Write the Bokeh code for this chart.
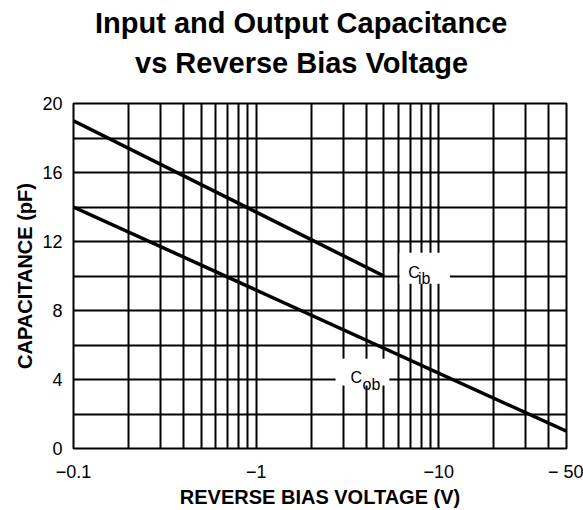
from bokeh.plotting import figure
from bokeh.models import FixedTicker, Label, Range1d, Title
from bokeh.embed import file_html
from bokeh.resources import INLINE

# ---- data ----
title_lines = ["Input and Output Capacitance", "vs Reverse Bias Voltage"]
x_label = "REVERSE BIAS VOLTAGE (V)"
y_label = "CAPACITANCE (pF)"

x_ticks = [0.1, 1, 10, 50]
x_tick_labels = ["\u22120.1", "\u22121", "\u221210", "\u2212 50"]
x_minor = [0.2, 0.3, 0.4, 0.5, 0.6, 0.7, 0.8, 0.9,
           2, 3, 4, 5, 6, 7, 8, 9, 20, 30, 40]
y_ticks = [0, 4, 8, 12, 16, 20]
y_minor = [2, 6, 10, 14, 18]

volts_ib = [0.1, 5.0]
cap_ib = [19.0, 10.0]
volts_ob = [0.1, 50.0]
cap_ob = [14.0, 1.0]

series_names = [("C", "ib"), ("C", "ob")]

FONT = "Liberation Sans"

p = figure(width=583, height=510, x_axis_type="log",
           x_range=Range1d(0.1, 50), y_range=Range1d(0, 20),
           output_backend="svg", toolbar_location=None, title=None,
           min_border_left=73, min_border_right=17,
           min_border_top=103, min_border_bottom=62)

p.background_fill_color = "white"
p.border_fill_color = "white"
p.outline_line_color = "black"
p.outline_line_width = 2

xt = FixedTicker(ticks=x_ticks, minor_ticks=x_minor)
yt = FixedTicker(ticks=y_ticks, minor_ticks=y_minor)
p.xaxis.ticker = xt
p.yaxis.ticker = yt
p.xgrid.ticker = xt
p.ygrid.ticker = yt

for g in (p.xgrid, p.ygrid):
    g.grid_line_color = "black"
    g.grid_line_width = 2
    g.minor_grid_line_color = "black"
    g.minor_grid_line_width = 2

for ax in (p.xaxis, p.yaxis):
    ax.axis_line_color = None
    ax.major_tick_in = 0
    ax.major_tick_out = 0
    ax.minor_tick_in = 0
    ax.minor_tick_out = 0
    ax.major_label_text_font = FONT
    ax.major_label_text_font_size = "18px"
    ax.major_label_text_color = "black"
    ax.axis_label_text_font = FONT
    ax.axis_label_text_font_size = "20px"
    ax.axis_label_text_font_style = "bold"
    ax.axis_label_text_color = "black"

p.xaxis.major_label_overrides = dict(zip(x_ticks, x_tick_labels))
p.xaxis.major_label_standoff = 13
p.xaxis.axis_label = x_label
p.xaxis.axis_label_standoff = 1

p.yaxis.major_label_standoff = 11
p.yaxis.axis_label = y_label
p.yaxis.axis_label_standoff = 3

# white boxes behind the curve names
p.quad(left=[6.1], right=[11.5], bottom=[9.55], top=[11.35],
       fill_color="white", line_color=None)
p.quad(left=[2.72], right=[5.36], bottom=[3.65], top=[5.21],
       fill_color="white", line_color=None)

p.line(volts_ib, cap_ib, line_color="black", line_width=3.5)
p.line(volts_ob, cap_ob, line_color="black", line_width=3.5)

# curve names with subscripts
for (main, sub), (x0, y0, x1, y1) in zip(series_names,
                                         [(6.80, 10.21, 7.69, 9.87),
                                          (3.285, 4.13, 3.82, 3.71)]):
    p.add_layout(Label(x=x0, y=y0, text=main, text_font=FONT,
                       text_font_size="16px", text_align="left",
                       text_baseline="alphabetic", text_color="black"))
    p.add_layout(Label(x=x1, y=y1, text=sub, text_font=FONT,
                       text_font_size="16px", text_align="left",
                       text_baseline="alphabetic", text_color="black"))

# two-line title: first added sits closest to the plot
title_offsets = [21.5, 61.5]
title_standoffs = [-36, 49]
for txt, off, so in reversed(list(zip(title_lines, title_offsets, title_standoffs))):
    p.add_layout(Title(text=txt, text_font=FONT, text_font_size="29px",
                       text_font_style="bold", align="left", offset=off,
                       text_color="black", standoff=so), "above")

open("out.html", "w").write(file_html(p, INLINE))
